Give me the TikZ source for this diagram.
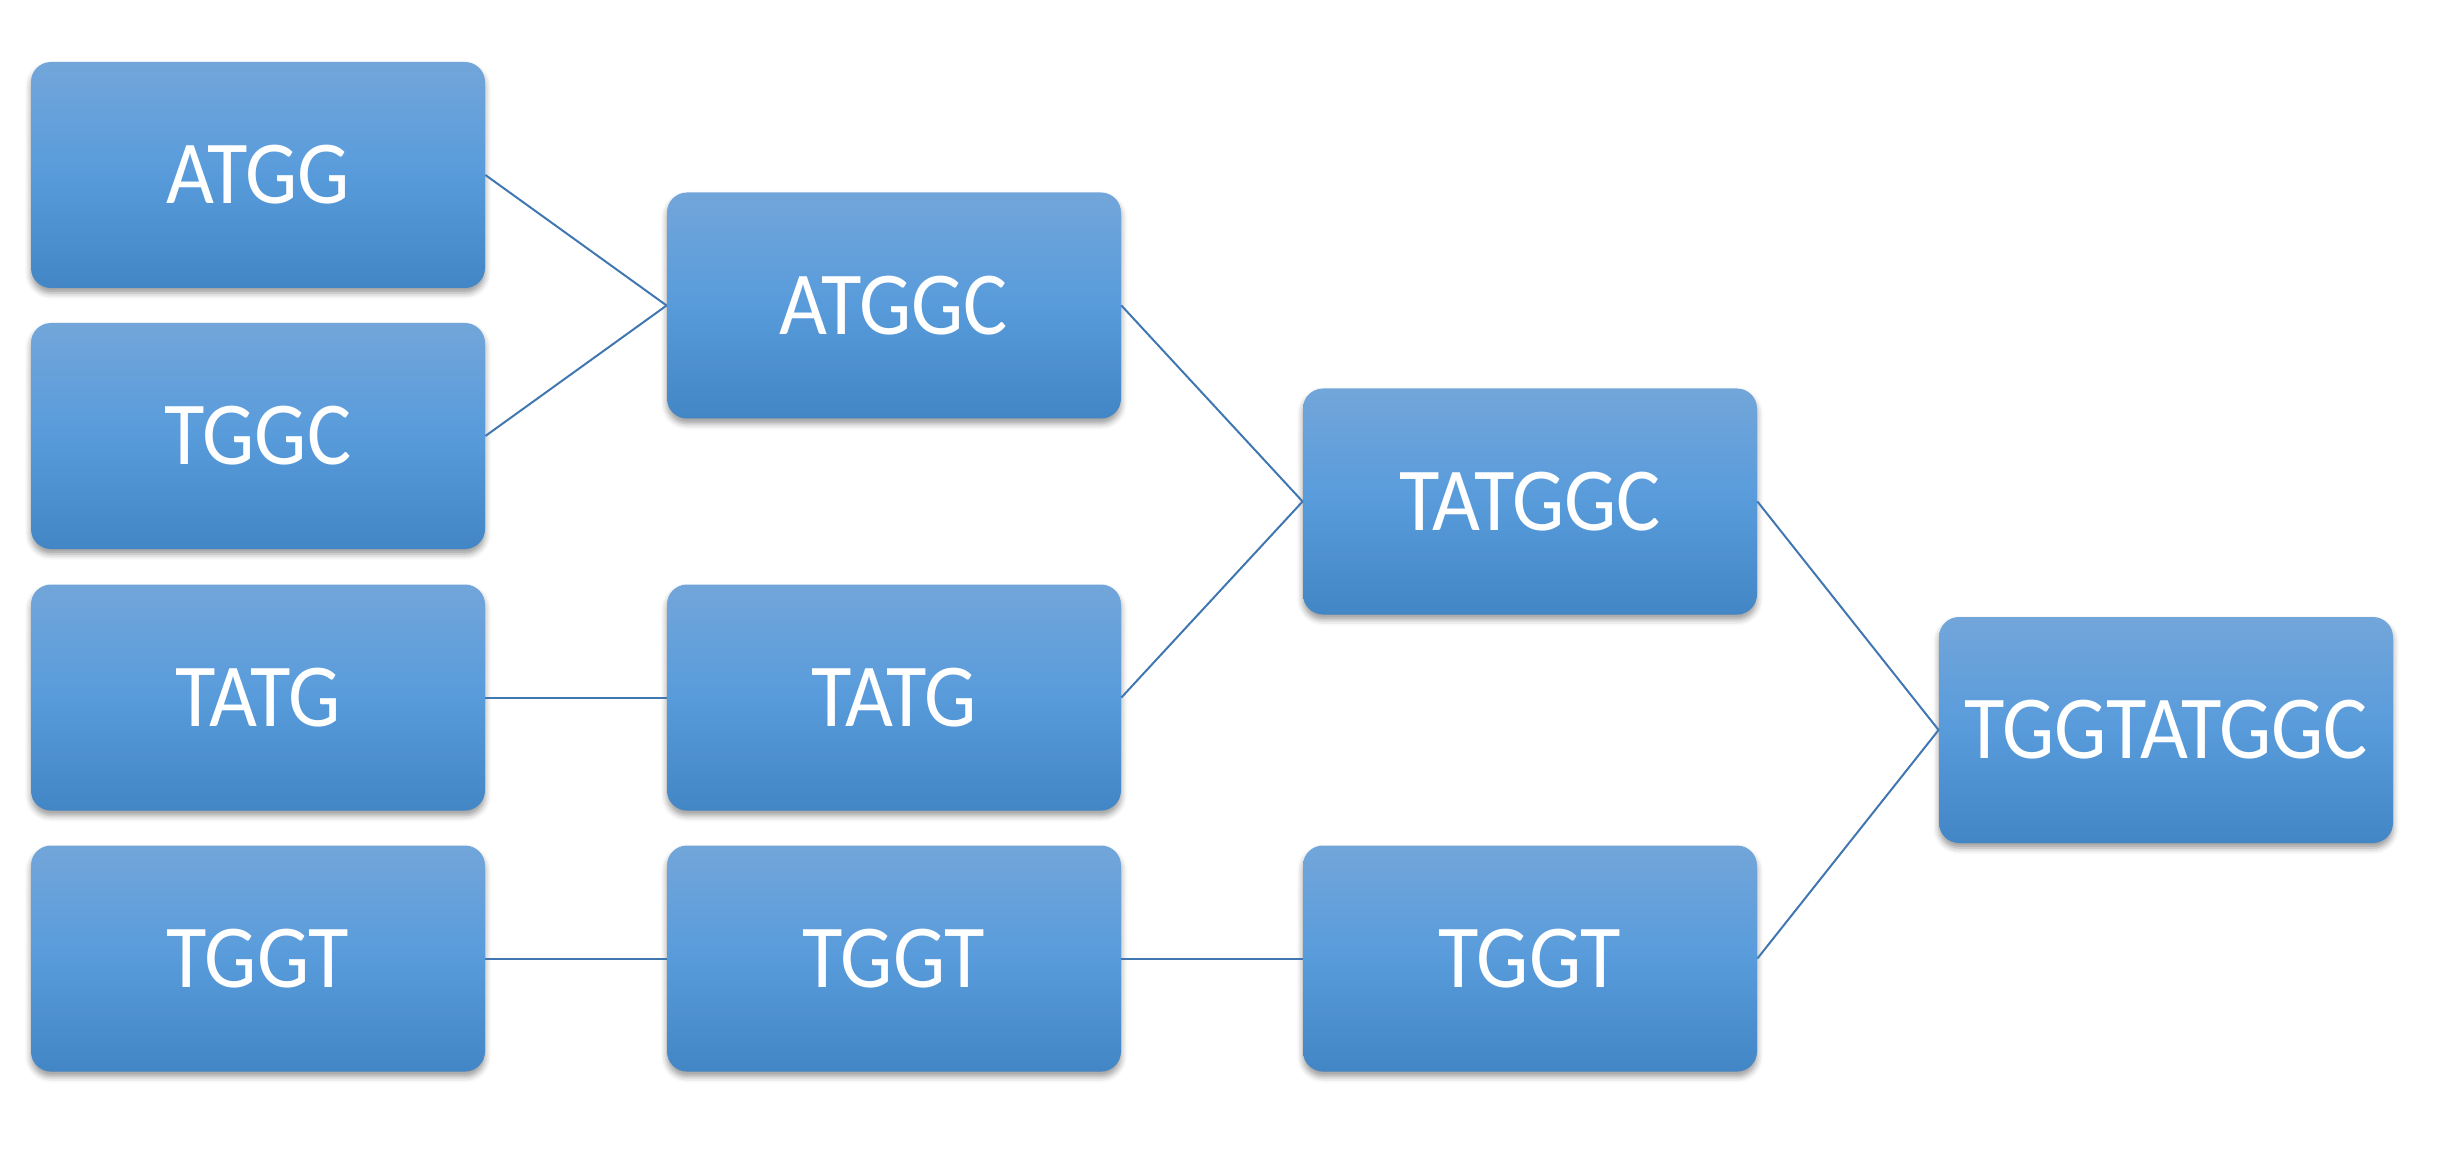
\documentclass[tikz,border=0pt]{standalone}
\usepackage{fontspec}
\setmainfont{Carlito}[FakeStretch=0.92]
\usetikzlibrary{shadows.blur}
\definecolor{btop}{HTML}{72A6DA}
\definecolor{bmid}{HTML}{589BDB}
\definecolor{bbot}{HTML}{4386C6}
\definecolor{lcol}{HTML}{4077B0}
\begin{document}
\begin{tikzpicture}[x=0.5pt,y=-0.5pt,
  box/.style={rounded corners=10pt, minimum width=227pt, minimum height=113pt,
    inner sep=0pt, top color=btop, bottom color=bbot, middle color=bmid,
    text=white, font=\fontsize{45}{50}\selectfont,
    blur shadow={shadow xshift=0pt, shadow yshift=-2.5pt, shadow blur radius=3pt, shadow opacity=40}},
  link/.style={draw=lcol, line width=1pt}]
\useasboundingbox (0,0) rectangle (2438,1166);
% column 1
\node[box] (a1) at (258,175) {ATGG};
\node[box] (a2) at (258,436) {TGGC};
\node[box] (a3) at (258,697.5) {TATG};
\node[box] (a4) at (258,958.5) {TGGT};
% column 2
\node[box] (b1) at (894,305.5) {ATGGC};
\node[box] (b3) at (894,697.5) {TATG};
\node[box] (b4) at (894,958.5) {TGGT};
% column 3
\node[box] (c1) at (1530,501.5) {TATGGC};
\node[box] (c4) at (1530,958.5) {TGGT};
% column 4
\node[box] (d1) at (2166,730) {TGGTATGGC};
% links
\draw[link] (a1.east) -- (b1.west);
\draw[link] (a2.east) -- (b1.west);
\draw[link] (a3.east) -- (b3.west);
\draw[link] (a4.east) -- (b4.west);
\draw[link] (b1.east) -- (c1.west);
\draw[link] (b3.east) -- (c1.west);
\draw[link] (b4.east) -- (c4.west);
\draw[link] (c1.east) -- (d1.west);
\draw[link] (c4.east) -- (d1.west);
\end{tikzpicture}
\end{document}
